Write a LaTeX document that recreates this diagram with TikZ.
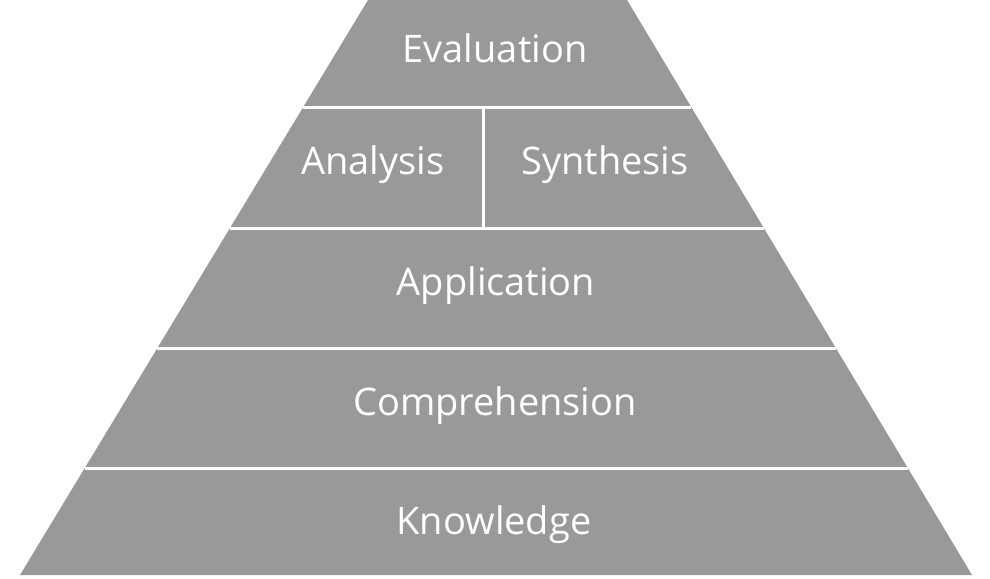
\documentclass[tikz,border=0pt]{standalone}
\usepackage{fontspec}
\setmainfont{Open Sans}
\definecolor{band}{HTML}{999999}
\begin{document}
\begin{tikzpicture}[x=1pt,y=-1pt,
  lbl/.style={text=white,font=\fontsize{38}{40}\selectfont,inner sep=0pt},
  sep/.style={draw=white,line width=3pt}]
\useasboundingbox (0,0) rectangle (990,578);
\fill[band] (368,0) -- (627,0) -- (972,575) -- (20,575) -- cycle;
\coordinate (l1) at (303,107); \coordinate (r1) at (691,107);
\coordinate (l2) at (230,228); \coordinate (r2) at (764,228);
\coordinate (l3) at (157,348); \coordinate (r3) at (836,348);
\coordinate (l4) at (85,468);  \coordinate (r4) at (908,468);
\coordinate (d1) at (483,107); \coordinate (d2) at (483,228);
\draw[sep] (l1) -- (r1);
\draw[sep] (l2) -- (r2);
\draw[sep] (l3) -- (r3);
\draw[sep] (l4) -- (r4);
\draw[sep] (d1) -- (d2);
\node[lbl] (eval) at (495,48) {Evaluation};
\node[lbl] (anal) at (373,165) {Analysis};
\node[lbl] (synt) at (605,165) {Synthesis};
\node[lbl] (appl) at (496,286) {Application};
\node[lbl] (comp) at (495,406) {Comprehension};
\node[lbl] (know) at (494,525) {Knowledge};
\end{tikzpicture}
\end{document}
